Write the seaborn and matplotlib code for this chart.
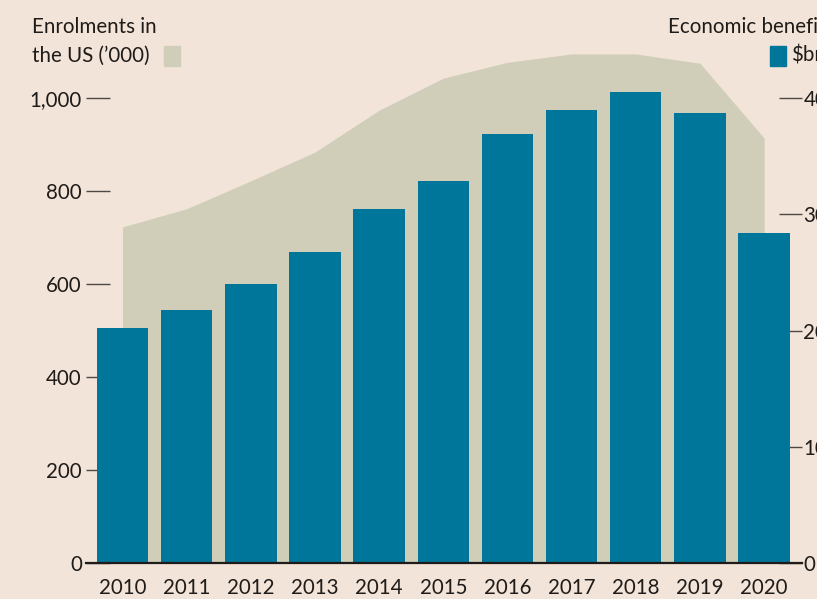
import matplotlib
matplotlib.use("Agg")
import matplotlib.pyplot as plt
import seaborn as sns
import numpy as np
import pandas as pd
from matplotlib.patches import Rectangle

years = ['2010', '2011', '2012', '2013', '2014', '2015', '2016', '2017', '2018', '2019', '2020']
enrolments = [723, 762, 822, 884, 974, 1043, 1077, 1095, 1095, 1075, 914]
benefit = [20.2, 21.8, 24.0, 26.8, 30.5, 32.9, 36.9, 39.0, 40.5, 38.7, 28.4]
left_ticks = [0, 200, 400, 600, 800, 1000]
left_labels = ['0', '200', '400', '600', '800', '1,000']
right_ticks = [0, 10, 20, 30, 40]
right_labels = ['0', '10', '20', '30', '40']

BG = '#f2e4d8'
AREA = '#d0ceb9'
BAR = '#00769a'
TXT = '#1f1b19'
TICK = '#4d4845'
FS = 14.8

sns.set_style("white")
plt.rcParams['font.family'] = ['Lato', 'DejaVu Sans']

df = pd.DataFrame({'year': years, 'benefit': benefit, 'enrol': enrolments})

fig = plt.figure(figsize=(8.17, 5.99), dpi=100, facecolor=BG)
ax = fig.add_axes([86/817, 36/599, 716/817, 523/599])
ax.set_facecolor(BG)
ax.set_axisbelow(True)

x = np.arange(len(years))
ax.fill_between(x, 0, df['enrol'], color=AREA, linewidth=0, zorder=1)
ax.set_ylim(0, 1125)
ax.set_xlim(-0.569, 10.59)

ax2 = ax.twinx()
ax2.set_axisbelow(True)
sns.barplot(data=df, x='year', y='benefit', ax=ax2, color=BAR, width=0.8,
            saturation=1, linewidth=0, zorder=2)
ax2.set_ylim(0, 45)
ax.set_xlim(-0.569, 10.59)
ax2.set_xlim(-0.569, 10.59)
ax2.set_xlabel('')
ax2.set_ylabel('')

for s in ['top', 'left', 'right', 'bottom']:
    ax.spines[s].set_visible(False)
for s in ['top', 'left', 'right']:
    ax2.spines[s].set_visible(False)
ax2.spines['bottom'].set_color(TXT)
ax2.spines['bottom'].set_linewidth(1.6)

ax.set_yticks(left_ticks)
ax.set_yticklabels(left_labels)
ax.tick_params(axis='y', direction='in', length=17.3, width=1.0, color=TICK,
               pad=3, labelsize=FS, labelcolor=TXT, left=True)
ax.set_xticks(x)
ax.set_xticklabels(years)
ax.tick_params(axis='x', length=0, pad=10.5, labelsize=FS, labelcolor=TXT)

ax2.set_yticks(right_ticks)
ax2.set_yticklabels(right_labels)
ax2.tick_params(axis='y', direction='in', length=16.6, width=1.0, color=TICK,
                pad=1, labelsize=FS, labelcolor=TXT, right=True)

# headers
fig.text(32/817, 1 - 33/599, 'Enrolments in', fontsize=FS, color=TXT,
         ha='left', va='baseline')
fig.text(32/817, 1 - 62/599, "the US (\u2019000)", fontsize=FS, color=TXT,
         ha='left', va='baseline')
fig.patches.append(Rectangle((164/817, 1 - 66/599), 16/817, 20/599,
                             transform=fig.transFigure, color=AREA, figure=fig))
fig.text(668/817, 1 - 33/599, 'Economic benefit', fontsize=FS, color=TXT,
         ha='left', va='baseline')
fig.patches.append(Rectangle((770/817, 1 - 66/599), 16/817, 20/599,
                             transform=fig.transFigure, color=BAR, figure=fig))
fig.text(791/817, 1 - 62/599, '$bn', fontsize=FS, color=TXT,
         ha='left', va='baseline')

fig.savefig('out.png', dpi=100, facecolor=BG)
